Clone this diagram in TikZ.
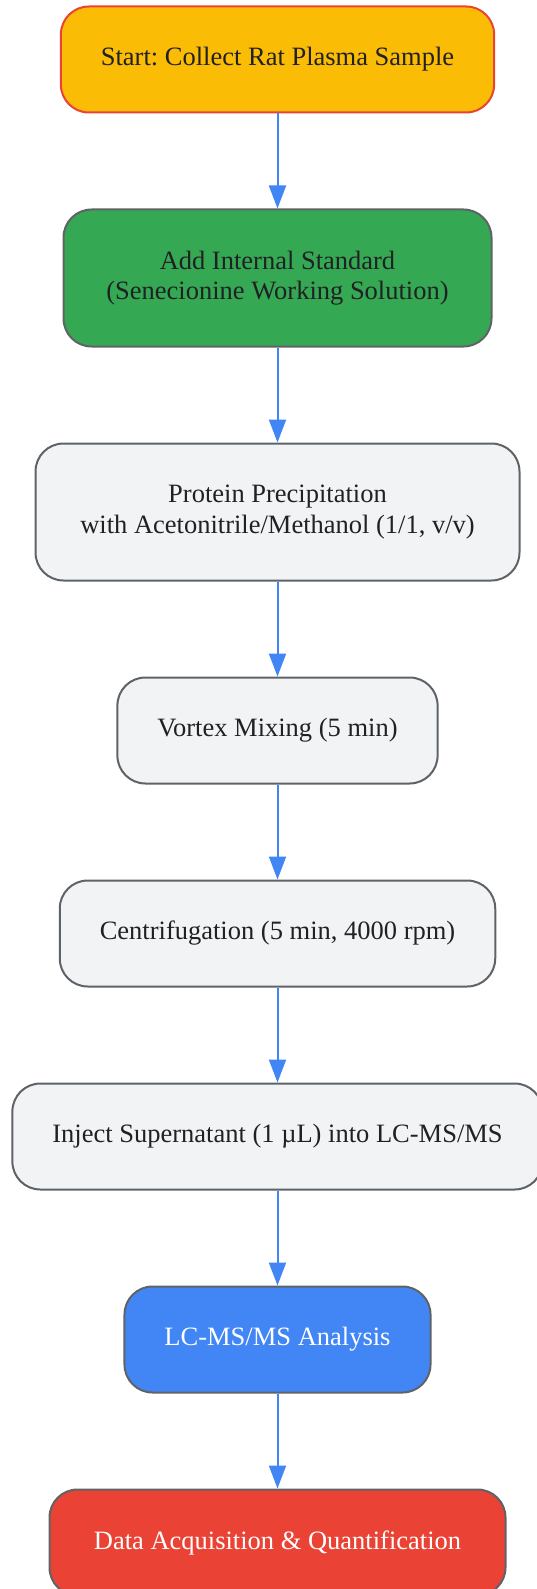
\documentclass[tikz,border=0pt]{standalone}
\usepackage{fontspec}
\setmainfont{Liberation Serif}
\usetikzlibrary{shapes, arrows.meta, positioning, calc}
\frenchspacing

\definecolor{gyellow}{HTML}{FBBC05}
\definecolor{ggreen}{HTML}{34A853}
\definecolor{gblue}{HTML}{4285F4}
\definecolor{gred}{HTML}{EA4335}
\definecolor{ggrey}{HTML}{F1F3F4}
\definecolor{gborder}{HTML}{5F6368}
\definecolor{gtext}{HTML}{202124}

\begin{document}
\begin{tikzpicture}[
  x=1pt, y=1pt,
  node distance=95pt,
  block/.style={rectangle, rounded corners=28pt, draw=gborder, line width=2pt, fill=ggrey,
    text=gtext, minimum height=106pt, inner xsep=40pt, align=center,
    font=\fontsize{26.5}{30.5}\selectfont},
  tall/.style={minimum height=137pt},
  arrow/.style={-{Triangle[length=23pt, width=17pt]}, draw=gblue, line width=2pt}
]
\useasboundingbox (0,0) rectangle (537,-1589);

% Main Flow
\node[block, fill=gyellow, draw=gred] (collect) at (277.5,-59.5) {Start: Collect Rat Plasma Sample};
\node[block, tall, minimum width=428pt, fill=ggreen, below=of collect] (istd) {Add Internal Standard\\(Senecionine Working Solution)};
\node[block, tall, minimum width=484pt, below=of istd] (precip) {Protein Precipitation\\with Acetonitrile/Methanol (1/1, v/v)};
\node[block, below=of precip] (vortex) {Vortex Mixing (5 min)};
\node[block, below=of vortex] (centri) {Centrifugation (5 min, 4000 rpm)};
\node[block, below=of centri] (inject) {Inject Supernatant (1 µL) into LC-MS/MS};
\node[block, fill=gblue, text=white, below=of inject] (lcms) {LC-MS/MS Analysis};
\node[block, minimum width=456pt, fill=gred, text=white, below=of lcms] (quant) {Data Acquisition \& Quantification};

% Connections
\draw[arrow] (collect) -- (istd);
\draw[arrow] (istd) -- (precip);
\draw[arrow] (precip) -- (vortex);
\draw[arrow] (vortex) -- (centri);
\draw[arrow] (centri) -- (inject);
\draw[arrow] (inject) -- (lcms);
\draw[arrow] (lcms) -- (quant);

\end{tikzpicture}
\end{document}
